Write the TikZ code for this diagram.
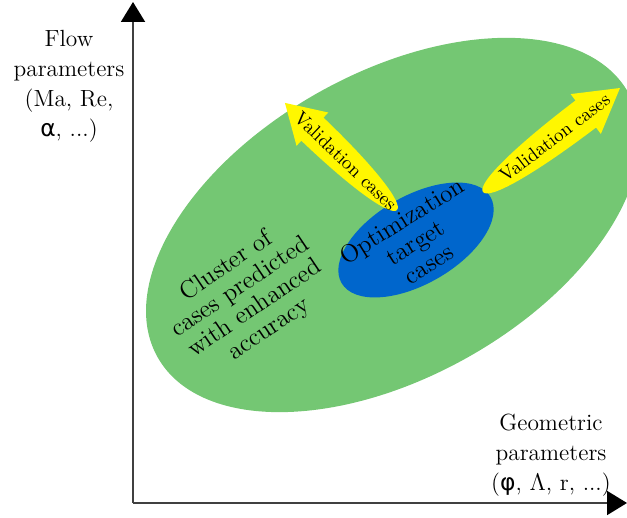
\documentclass[tikz,border=0pt]{standalone}
\usepackage{fontspec}
\newfontfamily\greekfont{DejaVu Sans}
\usetikzlibrary{arrows.meta,shapes.geometric}
\definecolor{clusterGreen}{RGB}{116,199,115}
\definecolor{targetBlue}{RGB}{0,102,204}
\definecolor{validYellow}{RGB}{255,247,0}
\definecolor{axisGray}{RGB}{64,64,64}

\begin{document}
\begin{tikzpicture}[
  x=0.5pt,y=0.5pt,
  axisline/.style={-{Triangle[length=10pt,width=12pt,color=black]},line width=1pt,axisGray},
  axislabel/.style={
    align=center,
    inner sep=0pt,
    font=\fontsize{11.7}{15}\selectfont
  },
  region/.style={ellipse,inner sep=0pt},
  regiontext/.style={align=center,inner sep=0pt,font=\fontsize{12.5}{12.7}\selectfont},
  validtext/.style={inner sep=0pt,font=\fontsize{9.5}{11}\selectfont}
]
  \useasboundingbox (0,0) rectangle (627,518);
  % axes
  \coordinate (origin) at (133,15);
  \coordinate (yend) at (133,516);
  \coordinate (xend) at (627,15);
  \draw[axisline] (origin) -- (yend);
  \draw[axisline] (origin) -- (xend);
  \node[axislabel] (flowlabel) at (69,432) {Flow\\parameters\\(Ma, Re,\\{\greekfont α}, ...)};
  \node[axislabel] (geomlabel) at (551,63) {Geometric\\parameters\\({\greekfont φ}, $\Lambda$, r, ...)};
  % regions
  \node[region,fill=clusterGreen,minimum width=270pt,minimum height=152pt,rotate=29.3] (cluster) at (393,293) {};
  \node[region,fill=targetBlue,minimum width=86pt,minimum height=44pt,rotate=30] (target) at (416,278) {};
  % validation arrows
  \coordinate (lefttail) at (397,308);
  \coordinate (righttail) at (483,326);
  \begin{scope}[shift={(lefttail)},rotate=136.3]
    \fill[validYellow] (0,0) .. controls (0,9) and (45,16) .. (117,16) -- (117,23) -- (155,0)
      -- (117,-23) -- (117,-16) .. controls (45,-16) and (0,-9) .. (0,0) -- cycle;
    \node[validtext,rotate=-43.7] (leftvalid) at (71,0) {Validation cases};
  \end{scope}
  \begin{scope}[shift={(righttail)},rotate=37.2]
    \fill[validYellow] (0,0) .. controls (0,10) and (50,17) .. (129,17) -- (129,25) -- (172,0)
      -- (129,-25) -- (129,-17) .. controls (50,-17) and (0,-10) .. (0,0) -- cycle;
    \node[validtext,rotate=37.2] (rightvalid) at (90,0) {Validation cases};
  \end{scope}
  % texts
  \node[regiontext,rotate=34] (clustertext) at (248,220) {Cluster of\\cases predicted\\with enhanced\\accuracy};
  \node[regiontext,rotate=32] (targettext) at (415,276) {Optimization\\target\\cases};
\end{tikzpicture}
\end{document}
